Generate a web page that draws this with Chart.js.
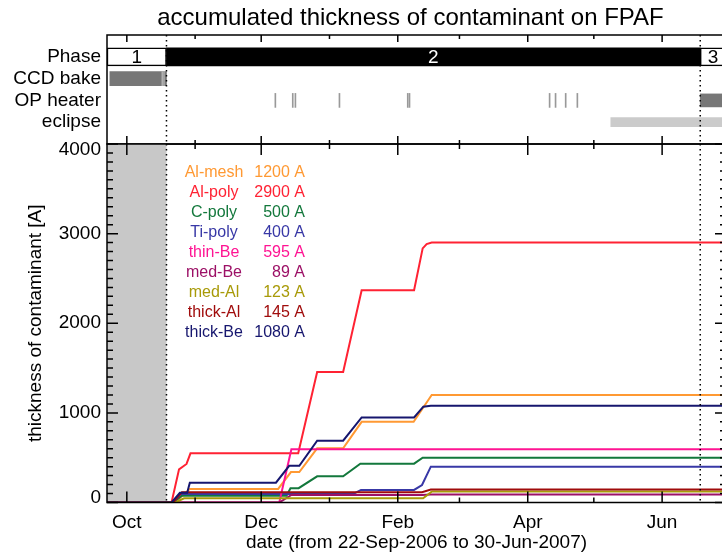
<!DOCTYPE html>
<html lang="en">
<head>
<meta charset="UTF-8">
<title>accumulated thickness of contaminant on FPAF</title>
<script src="https://cdn.jsdelivr.net/npm/chart.js"></script>
<style>
    html, body { margin: 0; padding: 0; overflow: hidden; background: #fff; }
    .wrap { position: relative; width: 728px; height: 558px; }
    .wrap canvas { position: absolute; left: 0; top: 0; }
</style>
</head>
<body>
<div class="wrap">
    <canvas id="panelChart" width="728" height="558"></canvas>
    <canvas id="thickChart" width="728" height="558"></canvas>
</div>

<script>
    // days counted from 22-Sep-2006
    const dayMax = 281;
    const monthDays = [9, 40, 70, 101, 132, 160, 191, 221, 252];
    const monthLabels = ['Oct', '', 'Dec', '', 'Feb', '', 'Apr', '', 'Jun'];
    const yMax = 4000;
    const yLabelStep = 1000;
    const yMinorStep = 100;

    // top panel
    const rowLabels = ['', 'Phase', 'CCD bake', 'OP heater', 'eclipse', ''];
    const phaseEdges = [0, 27, 269.3, 281];
    const phaseNames = ['1', '2', '3'];
    const ccdBake = [1.3, 27];
    const ccdBakeBreaks = [24.9, 25.7];
    const opHeaterPulses = [76.2, 84.1, 85.3, 105.3, 136.3, 137.1, 200.7, 203.4, 208, 213.3];
    const opHeaterOn = [269.3, 281];
    const eclipse = [228.7, 281];

    // contaminant thickness per filter [A]
    const filters = ['Al-mesh', 'Al-poly', 'C-poly', 'Ti-poly', 'thin-Be', 'med-Be', 'med-Al', 'thick-Al', 'thick-Be'];
    const finalThick = [1200, 2900, 500, 400, 595, 89, 123, 145, 1080];

    const alMeshDays = [0, 31, 37.6, 77.7, 83.5, 87.3, 95.4, 107.2, 115.6, 139.2, 147.4, 281];
    const alMeshVals = [0, 0, 152, 152, 340, 340, 605, 605, 900, 900, 1200, 1200];
    const alPolyDays = [0, 29.3, 32.7, 36.1, 37.9, 86.8, 95.4, 107.2, 115.6, 139.4, 143.3, 145.1, 147.4, 281];
    const alPolyVals = [0, 0, 370, 430, 549, 549, 1456, 1456, 2369, 2369, 2835, 2883, 2900, 2900];
    const cPolyDays = [0, 30, 34, 81.5, 83.3, 87, 95.4, 107.2, 115, 139.4, 143.3, 281];
    const cPolyVals = [0, 0, 76, 76, 160, 160, 292, 292, 433, 433, 500, 500];
    const tiPolyDays = [0, 30, 33.5, 111.8, 115.3, 139.4, 143, 147, 281];
    const tiPolyVals = [0, 0, 95, 95, 140, 140, 195, 400, 400];
    const thinBeDays = [0, 78.2, 83.7, 281];
    const thinBeVals = [0, 0, 595, 595];
    const medBeDays = [0, 78.2, 83.7, 143, 147, 281];
    const medBeVals = [0, 0, 84, 84, 89, 89];
    const medAlDays = [0, 31, 35, 143.5, 147.5, 281];
    const medAlVals = [0, 0, 47, 47, 123, 123];
    const thickAlDays = [0, 30, 34, 143, 147, 281];
    const thickAlVals = [0, 0, 115, 115, 145, 145];
    const thickBeDays = [0, 29.3, 33.1, 36.4, 37.6, 76.7, 82.7, 87.3, 95.4, 107.2, 115.6, 139.4, 143.6, 147, 281];
    const thickBeVals = [0, 0, 109, 109, 221, 221, 409, 409, 690, 690, 949, 949, 1069, 1080, 1080];

    const series = [
        [alMeshDays, alMeshVals], [alPolyDays, alPolyVals], [cPolyDays, cPolyVals],
        [tiPolyDays, tiPolyVals], [thinBeDays, thinBeVals], [medBeDays, medBeVals],
        [medAlDays, medAlVals], [thickAlDays, thickAlVals], [thickBeDays, thickBeVals]
    ];
    const lineColors = ['#ff9933', '#ff2233', '#13783c', '#3838a6', '#ff1493', '#9c1066', '#a89a08', '#a00c0c', '#16166e'];

    const FONT = '"Liberation Sans", Arial, sans-serif';
    Chart.defaults.font.family = FONT;
    Chart.defaults.color = '#000';

    function span(row, a, b) {
        return { y: row, x: [a, b] };
    }

    // little inward ticks, as on the original plot
    function monthTicks(ctx, xs, area, upLen, downLen) {
        monthDays.forEach((d, i) => {
            const x = xs.getPixelForValue(d);
            const major = monthLabels[i] !== '';
            ctx.beginPath();
            ctx.moveTo(x, area.top);
            ctx.lineTo(x, area.top + (major ? downLen[0] : downLen[1]));
            ctx.moveTo(x, area.bottom);
            ctx.lineTo(x, area.bottom - (major ? upLen[0] : upLen[1]));
            ctx.stroke();
        });
    }

    function dotted(ctx, xs, area) {
        ctx.save();
        ctx.setLineDash([1.5, 3.5]);
        ctx.lineWidth = 1.5;
        [phaseEdges[1], phaseEdges[2]].forEach(d => {
            const x = xs.getPixelForValue(d);
            ctx.beginPath();
            ctx.moveTo(x, area.top);
            ctx.lineTo(x, area.bottom);
            ctx.stroke();
        });
        ctx.restore();
    }

    const panelDecor = {
        id: 'panelDecor',
        afterDraw(chart) {
            const ctx = chart.ctx, area = chart.chartArea, xs = chart.scales.x, ys = chart.scales.y;
            ctx.save();
            ctx.strokeStyle = '#000';
            ctx.lineWidth = 1.5;
            dotted(ctx, xs, area);
            ctx.strokeRect(area.left, area.top, area.right - area.left, area.bottom - area.top);
            monthTicks(ctx, xs, area, [8, 4], [7, 4]);

            // phase numbers
            ctx.font = '19px ' + FONT;
            ctx.textAlign = 'center';
            ctx.textBaseline = 'middle';
            const yRow = ys.getPixelForValue(1);
            phaseNames.forEach((p, i) => {
                const x = (xs.getPixelForValue(phaseEdges[i]) + xs.getPixelForValue(phaseEdges[i + 1])) / 2;
                ctx.fillStyle = i === 1 ? '#fff' : '#000';
                ctx.fillText(p, x, yRow + 1);
            });

            // title
            ctx.fillStyle = '#000';
            ctx.font = '24px ' + FONT;
            ctx.fillText('accumulated thickness of contaminant on FPAF', (area.left + area.right) / 2 - 6, 18);
            ctx.restore();
        }
    };

    const thickDecor = {
        id: 'thickDecor',
        beforeDatasetsDraw(chart) {
            const ctx = chart.ctx, area = chart.chartArea, xs = chart.scales.x;
            const x0 = xs.getPixelForValue(phaseEdges[0]);
            const x1 = xs.getPixelForValue(phaseEdges[1]);
            ctx.save();
            ctx.fillStyle = '#c8c8c8';
            ctx.fillRect(x0, area.top, x1 - x0, area.bottom - area.top);
            ctx.restore();
        },
        afterDraw(chart) {
            const ctx = chart.ctx, area = chart.chartArea, xs = chart.scales.x, ys = chart.scales.y;
            ctx.save();
            ctx.strokeStyle = '#000';
            ctx.lineWidth = 1.5;
            dotted(ctx, xs, area);
            ctx.strokeRect(area.left, area.top, area.right - area.left, area.bottom - area.top);
            monthTicks(ctx, xs, area, [11, 5], [11, 5]);

            ctx.font = '19px ' + FONT;
            ctx.fillStyle = '#000';
            ctx.textAlign = 'right';
            ctx.textBaseline = 'middle';
            for (let v = 0; v <= yMax; v += yMinorStep) {
                const y = ys.getPixelForValue(v);
                const major = v % yLabelStep === 0;
                const len = major ? 11 : 6;
                ctx.beginPath();
                ctx.moveTo(area.left, y);
                ctx.lineTo(area.left + len, y);
                ctx.moveTo(area.right, y);
                ctx.lineTo(area.right - len, y);
                ctx.stroke();
                if (major) {
                    // end labels are kept inside the axis range
                    const ly = Math.min(Math.max(y, area.top + 6), area.bottom - 5);
                    ctx.fillText(String(v), area.left - 6, ly);
                }
            }

            // filter list
            ctx.font = '16px ' + FONT;
            filters.forEach((f, i) => {
                const y = area.top + 29 + i * 20;
                ctx.fillStyle = lineColors[i];
                ctx.textAlign = 'center';
                ctx.fillText(f, area.left + 107, y);
                ctx.textAlign = 'right';
                ctx.fillText(finalThick[i] + ' A', area.left + 198, y);
            });
            ctx.restore();
        }
    };

    new Chart(document.getElementById('panelChart'), {
        type: 'bar',
        data: {
            labels: rowLabels,
            datasets: [
                {
                    data: [span('Phase', phaseEdges[0], phaseEdges[1]), span('Phase', phaseEdges[2], phaseEdges[3])],
                    backgroundColor: '#fff', borderColor: '#000', borderWidth: 1.5, borderSkipped: false, barThickness: 18
                },
                { data: [span('Phase', phaseEdges[1], phaseEdges[2])], backgroundColor: '#000', barThickness: 18 },
                { data: ccdBakeBreaks.map(d => span('CCD bake', d, d + 0.35)), backgroundColor: '#b4b4b4', barThickness: 14 },
                { data: [span('CCD bake', ccdBake[0], ccdBake[1])], backgroundColor: '#777', barThickness: 14 },
                { data: opHeaterPulses.map(d => span('OP heater', d, d + 0.45)), backgroundColor: '#999', barThickness: 14 },
                { data: [span('OP heater', opHeaterOn[0], opHeaterOn[1])], backgroundColor: '#777', barThickness: 13 },
                { data: [span('eclipse', eclipse[0], eclipse[1])], backgroundColor: '#cbcbcb', barThickness: 9 }
            ]
        },
        options: {
            indexAxis: 'y',
            responsive: false,
            animation: false,
            layout: { padding: { top: 35, right: 2, bottom: 414, left: 0 } },
            datasets: { bar: { grouped: false } },
            scales: {
                x: { type: 'linear', min: 0, max: dayMax, display: false },
                y: {
                    type: 'category',
                    offset: false,
                    grid: { display: false, drawTicks: false },
                    border: { display: false },
                    ticks: { font: { size: 19 }, padding: 6, autoSkip: false },
                    afterFit: s => { s.width = 107; }
                }
            },
            plugins: { legend: { display: false }, tooltip: { enabled: false } }
        },
        plugins: [panelDecor]
    });

    new Chart(document.getElementById('thickChart'), {
        type: 'line',
        data: {
            datasets: filters.map((name, i) => ({
                label: name,
                data: series[i][0].map((d, k) => ({ x: d, y: series[i][1][k] })),
                borderColor: lineColors[i],
                borderWidth: 2,
                pointRadius: 0,
                tension: 0,
                fill: false,
                order: filters.length - i
            }))
        },
        options: {
            responsive: false,
            animation: false,
            layout: { padding: { top: 144, right: 2, bottom: 0, left: 0 } },
            scales: {
                x: {
                    type: 'linear',
                    min: 0,
                    max: dayMax,
                    grid: { display: false, drawTicks: false },
                    border: { display: false },
                    afterBuildTicks: s => { s.ticks = monthDays.map(v => ({ value: v })); },
                    ticks: { autoSkip: false, maxRotation: 0, padding: 9, font: { size: 19 }, callback: (v, i) => monthLabels[i] },
                    title: { display: true, text: 'date (from 22-Sep-2006 to 30-Jun-2007)', font: { size: 19 }, padding: { top: 0, bottom: 4 } },
                    afterFit: s => { s.height = 55.5; }
                },
                y: {
                    min: 0,
                    max: yMax,
                    grid: { display: false, drawTicks: false },
                    border: { display: false },
                    // labels and ticks are painted by thickDecor
                    ticks: { display: false },
                    title: { display: true, text: 'thickness of contaminant [A]', font: { size: 19 }, padding: { top: 24, bottom: 0 } },
                    afterFit: s => { s.width = 107; }
                }
            },
            plugins: { legend: { display: false }, tooltip: { enabled: false } }
        },
        plugins: [thickDecor]
    });
</script>
</body>
</html>
